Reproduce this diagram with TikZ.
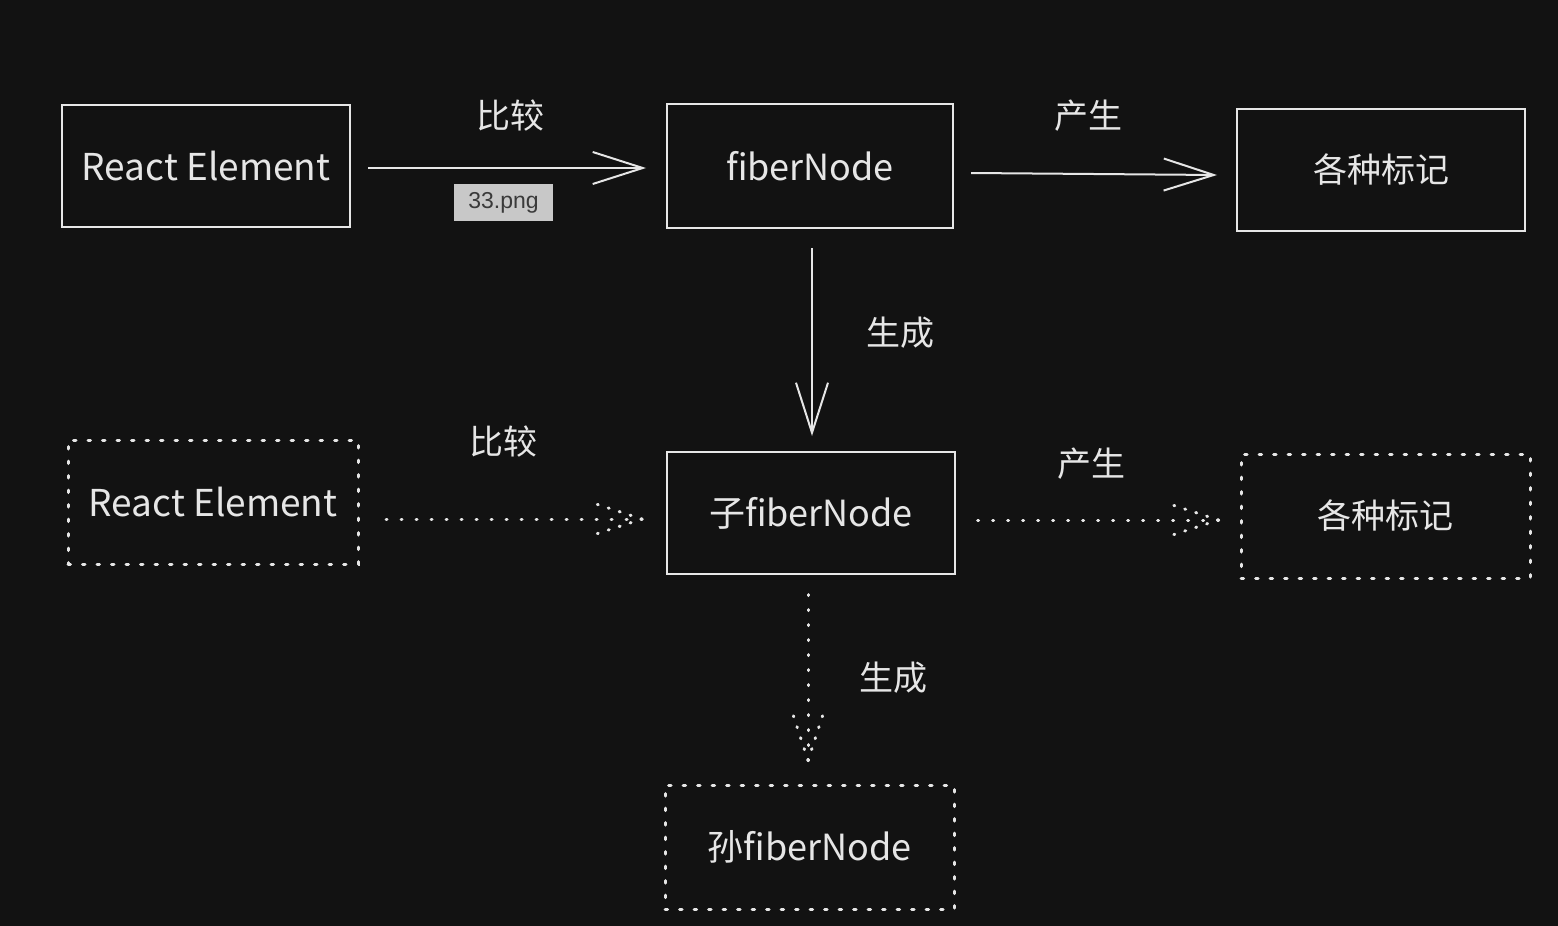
\documentclass[tikz,border=0pt]{standalone}
\usepackage{fontspec}
\setmainfont{Noto Sans CJK SC}
\newfontfamily\labelfont{Liberation Sans}
\usetikzlibrary{arrows.meta}
\definecolor{bg}{HTML}{121212}
\definecolor{ink}{HTML}{E6E6E6}
\definecolor{tagbg}{HTML}{C8C8C8}
\definecolor{tagtext}{HTML}{3A3A3A}
\tikzset{
  box/.style={draw=ink, line width=2pt, text=ink, inner sep=0pt, font=\fontsize{36}{40}\selectfont},
  dotbox/.style={box, dash pattern=on 2.5pt off 12pt, line width=3pt, line cap=round},
  solidarrow/.style={draw=ink, line width=2pt, -{Straight Barb[length=50pt,width=32pt,line width=2pt]}},
  dotline/.style={draw=ink, line width=3pt, line cap=round, dash pattern=on 1pt off 14pt},
  dotbarb/.style={draw=ink, line width=3pt, line cap=round, dash pattern=on 1pt off 10.5pt},
  lbl/.style={text=ink, font=\fontsize{34}{38}\selectfont, inner sep=0pt},
}
\begin{document}
\begin{tikzpicture}[x=1pt,y=-1pt]
\fill[bg] (0,0) rectangle (1558,926);
\useasboundingbox (0,0) rectangle (1558,926);

% nodes
\node[box, minimum width=288pt, minimum height=122pt, font=\fontsize{37}{40}\selectfont] (re1) at (206,166) {React Element};
\node[box, minimum width=286pt, minimum height=124pt] (fiber) at (810,166) {fiberNode};
\node[box, minimum width=288pt, minimum height=122pt, font=\fontsize{34}{38}\selectfont] (mark1) at (1381,170) {各种标记};
\node[box, minimum width=288pt, minimum height=122pt] (child) at (811,513) {子fiberNode};
\node[dotbox, minimum width=290pt, minimum height=124pt, font=\fontsize{37}{40}\selectfont] (re2) at (213,502) {React Element};
\node[dotbox, minimum width=289pt, minimum height=124pt, font=\fontsize{34}{38}\selectfont] (mark2) at (1385.5,516) {各种标记};
\node[dotbox, minimum width=289pt, minimum height=124pt] (grand) at (809.5,847) {孙fiberNode};

% labels
\node[lbl] (l1) at (510,116) {比较};
\node[lbl] (l2) at (1088,116) {产生};
\node[lbl] (l3) at (900,333) {生成};
\node[lbl] (l4) at (503,442) {比较};
\node[lbl] (l5) at (1091,464) {产生};
\node[lbl] (l6) at (893,678) {生成};
\node[fill=tagbg, text=tagtext, minimum width=99pt, minimum height=37pt, inner sep=0pt, font=\labelfont\fontsize{23}{26}\selectfont] (tag) at (503.5,202.5) {33.png};

% solid arrows
\draw[solidarrow] ([xshift=17pt,yshift=-2pt]re1.east) -- ([xshift=-20pt,yshift=-2pt]fiber.west);
\draw[solidarrow] ([xshift=17pt,yshift=-7pt]fiber.east) -- ([xshift=-19pt,yshift=-5pt]mark1.west);
\draw[solidarrow] ([xshift=2pt,yshift=-19pt]fiber.south) -- ([xshift=1pt,yshift=15pt]child.north);

% dotted arrows with dotted heads
\coordinate (t1) at ([xshift=-24pt,yshift=-6pt]child.west);
\draw[dotline] (t1) -- ([xshift=25pt]re2.east |- t1);
\draw[dotbarb] (t1) -- ++(-46,-15);
\draw[dotbarb] (t1) -- ++(-46,15);

\coordinate (t2) at ([xshift=-21pt,yshift=-4pt]mark2.west);
\draw[dotline] (t2) -- ([xshift=18pt]child.east |- t2);
\draw[dotbarb] (t2) -- ++(-46,-15);
\draw[dotbarb] (t2) -- ++(-46,15);

\coordinate (t3) at ([xshift=-1.5pt,yshift=23pt]grand.north);
\draw[dotline] (t3) -- ([xshift=-3pt,yshift=-14pt]child.south);
\draw[dotbarb] (t3) -- ++(-15,-46);
\draw[dotbarb] (t3) -- ++(15,-46);
\end{tikzpicture}
\end{document}
